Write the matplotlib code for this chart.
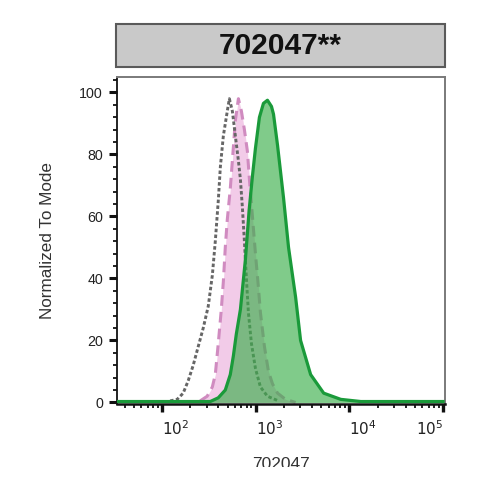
import matplotlib
matplotlib.use('Agg')
import matplotlib.pyplot as plt
import numpy as np
from matplotlib.patches import Rectangle
from matplotlib.ticker import FixedLocator, MultipleLocator, LogLocator, NullFormatter

plt.rcParams['font.family'] = ['Liberation Sans', 'DejaVu Sans']

# ---------------- data ----------------
title = "702047**"
x_label = "702047"
y_label = "Normalized To Mode"
y_ticks = [0, 20, 40, 60, 80, 100]
x_ticks = [1e2, 1e3, 1e4, 1e5]
x_tick_labels = [r"$10^2$", r"$10^3$", r"$10^4$", r"$10^5$"]

# gray dotted histogram (control)
gray_x = [122, 145, 168, 190, 215, 243, 275, 311, 344, 370, 398, 419, 451, 497, 523,
          563, 606, 653, 686, 720, 757, 795, 835, 900, 993, 1122, 1334, 1750]
gray_y = [0.5, 1, 3, 7, 12, 18, 24, 31, 41, 52, 65, 76, 86, 94, 98,
          94, 86, 78, 72, 63, 52, 40, 29, 19, 11, 5, 2, 0.5]

# pink dashed, filled histogram
pink_x = [255, 303, 344, 370, 398, 429, 451, 473, 497, 535, 563, 606, 653,
          703, 757, 815, 856, 922, 993, 1069, 1122, 1239, 1367, 1510, 1709, 2080, 2665]
pink_y = [0.5, 2, 5, 9, 19, 30, 39, 50, 59, 69, 78, 91, 98,
          94, 88, 81, 72, 60, 48, 37, 29, 18, 10, 6, 3, 1, 0]

# green solid, filled histogram
green_x = [33, 327, 398, 473, 535, 577, 620, 686, 775, 850, 922, 993, 1095,
           1209, 1334, 1473, 1548, 1709, 1981, 2241, 2665, 3013, 3857, 5318, 8091, 13240, 100000]
green_y = [0.3, 0.3, 1.5, 4, 9, 15, 22, 30, 46, 62, 73, 82, 92,
           96.5, 97.5, 95.5, 93, 83, 66, 50, 34, 20, 9, 3, 1, 0.3, 0.3]

# ---------------- figure ----------------
W = H = 490
fig = plt.figure(figsize=(4.9, 4.9), dpi=100)
L, R, T, B = 117, 445, 77, 404
ax = fig.add_axes([L / W, 1 - B / H, (R - L) / W, (B - T) / H])

# pink
ax.fill_between(pink_x, pink_y, 0, color='#f2cbe8', lw=0, zorder=1)
ax.plot(pink_x, pink_y, color='#d08bc0', lw=2.2, linestyle=(0, (3.5, 2)), zorder=2)
# gray dotted
ax.plot(gray_x, gray_y, color='#666666', lw=2.1, linestyle=(0, (1.2, 0.8)), zorder=3)
# green
ax.fill_between(green_x, green_y, 0, color='#3caf4b', alpha=0.65, lw=0, zorder=4)
ax.plot(green_x, green_y, color='#1a9a3a', lw=2.3, zorder=5)

ax.set_xscale('log')
ax.set_xlim(33, 1.05e5)
ax.set_ylim(-0.5, 105)

# spines
for s in ['top', 'right']:
    ax.spines[s].set_color('#7a7a7a')
    ax.spines[s].set_linewidth(1.4)
ax.spines['left'].set_color('#111111')
ax.spines['left'].set_linewidth(1.3)
ax.spines['bottom'].set_color('#111111')
ax.spines['bottom'].set_linewidth(1.8)

# y ticks
ax.yaxis.set_major_locator(FixedLocator(y_ticks))
ax.yaxis.set_minor_locator(MultipleLocator(4))
ax.tick_params(axis='y', which='major', length=6, width=2.2, color='#111111',
               labelsize=10.3, labelcolor='#222222', pad=4, direction='out')
ax.tick_params(axis='y', which='minor', length=3, width=1.3, color='#111111', direction='out')

# x ticks
ax.xaxis.set_major_locator(FixedLocator(x_ticks))
ax.set_xticklabels(x_tick_labels)
ax.xaxis.set_minor_locator(LogLocator(base=10, subs=np.arange(2, 10), numticks=20))
ax.xaxis.set_minor_formatter(NullFormatter())
ax.tick_params(axis='x', which='major', length=6, width=2.4, color='#111111',
               labelsize=11, labelcolor='#222222', pad=5, direction='out')
ax.tick_params(axis='x', which='minor', length=3, width=1.3, color='#111111', direction='out')
ax.tick_params(top=False, right=False, which='both')
xt = ax.get_xticklabels()
for i, lab in enumerate(xt):
    lab.set_ha('right' if i == len(xt) - 1 else 'left')

ax.set_ylabel(y_label, fontsize=12.3, color='#333333')
ax.yaxis.set_label_coords(-0.19, 0.5)
ax.set_xlabel(x_label, fontsize=12.5, color='#333333')
ax.xaxis.set_label_coords(0.5, -0.162)

# title strip
fig.patches.append(Rectangle((116 / W, 1 - 67 / H), (445 - 116) / W, 43 / H,
                             transform=fig.transFigure, facecolor='#c9c9c9',
                             edgecolor='#5a5a5a', lw=1.5, zorder=1))
fig.text((116 + 445) / 2 / W, 1 - 46 / H, title, fontsize=21.5, fontweight='bold',
         color='#111111', ha='center', va='center', zorder=2)

# bottom crop (label cut off in reference)
fig.patches.append(Rectangle((0, 0), 1, (H - 467) / H, transform=fig.transFigure,
                             facecolor='white', edgecolor='none', zorder=10))

fig.savefig('out.png', dpi=100)
